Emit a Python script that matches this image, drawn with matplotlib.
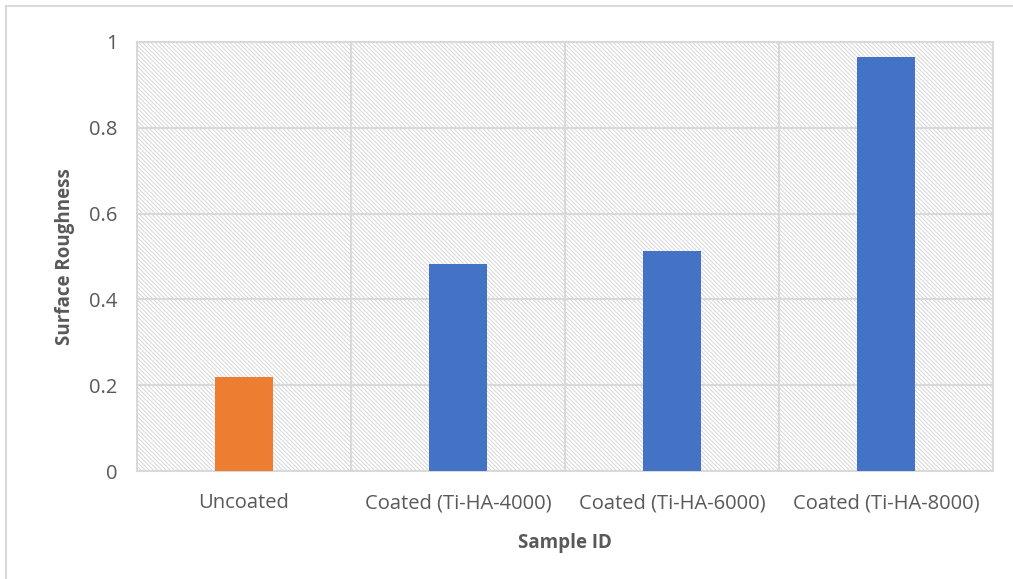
import matplotlib.pyplot as plt
from matplotlib.lines import Line2D

plt.rcParams['hatch.color'] = '#d6d6d6'
plt.rcParams['hatch.linewidth'] = 0.7
plt.rcParams['font.family'] = ['Open Sans', 'DejaVu Sans']

samples = ["Uncoated", "Coated (Ti-HA-4000)", "Coated (Ti-HA-6000)", "Coated (Ti-HA-8000)"]
roughness = [0.22, 0.482, 0.513, 0.966]
bar_colors = ['#ed7d31', '#4472c4', '#4472c4', '#4472c4']
yticks = [0, 0.2, 0.4, 0.6, 0.8, 1]

fig = plt.figure(figsize=(10.13, 5.79), dpi=100)
ax = fig.add_axes([0.1352, 0.1865, 0.8451, 0.741])

# hatched plot area background
ax.patch.set_facecolor('white')
ax.patch.set_hatch('\\' * 8)
ax.patch.set_edgecolor('#d6d6d6')

x = range(len(samples))
ax.bar(x, roughness, width=0.27, color=bar_colors, zorder=3)

ax.set_xlim(-0.5, len(samples) - 0.5)
ax.set_ylim(0, 1)
ax.set_yticks(yticks)
ax.set_yticklabels([f"{v:g}" for v in yticks])
ax.set_xticks(list(x))
ax.set_xticklabels(samples)

# gridlines: horizontal at ticks, vertical at category boundaries
for v in yticks:
    ax.axhline(v, color='#d9d9d9', lw=1.5, zorder=1)
for b in [0.5, 1.5, 2.5]:
    ax.axvline(b, color='#d9d9d9', lw=1.5, zorder=1)

for s in ax.spines.values():
    s.set_color('#d9d9d9')
    s.set_linewidth(1.5)

ax.tick_params(axis='both', length=0, labelsize=14.5, labelcolor='#595959')
ax.tick_params(axis='x', pad=16)
ax.tick_params(axis='y', pad=14)

ax.set_xlabel("Sample ID", fontsize=13.5, fontweight='bold', color='#595959', labelpad=14)
ax.set_ylabel("Surface Roughness", fontsize=13.5, fontweight='bold', color='#595959', labelpad=10)

# outer chart border (top and left only visible)
fig.add_artist(Line2D([6 / 1013, 6 / 1013], [0, 1 - 6 / 579], color='#d9d9d9', lw=1.5, transform=fig.transFigure))
fig.add_artist(Line2D([6 / 1013, 1], [1 - 6 / 579, 1 - 6 / 579], color='#d9d9d9', lw=1.5, transform=fig.transFigure))

fig.savefig("out.png", dpi=100)
